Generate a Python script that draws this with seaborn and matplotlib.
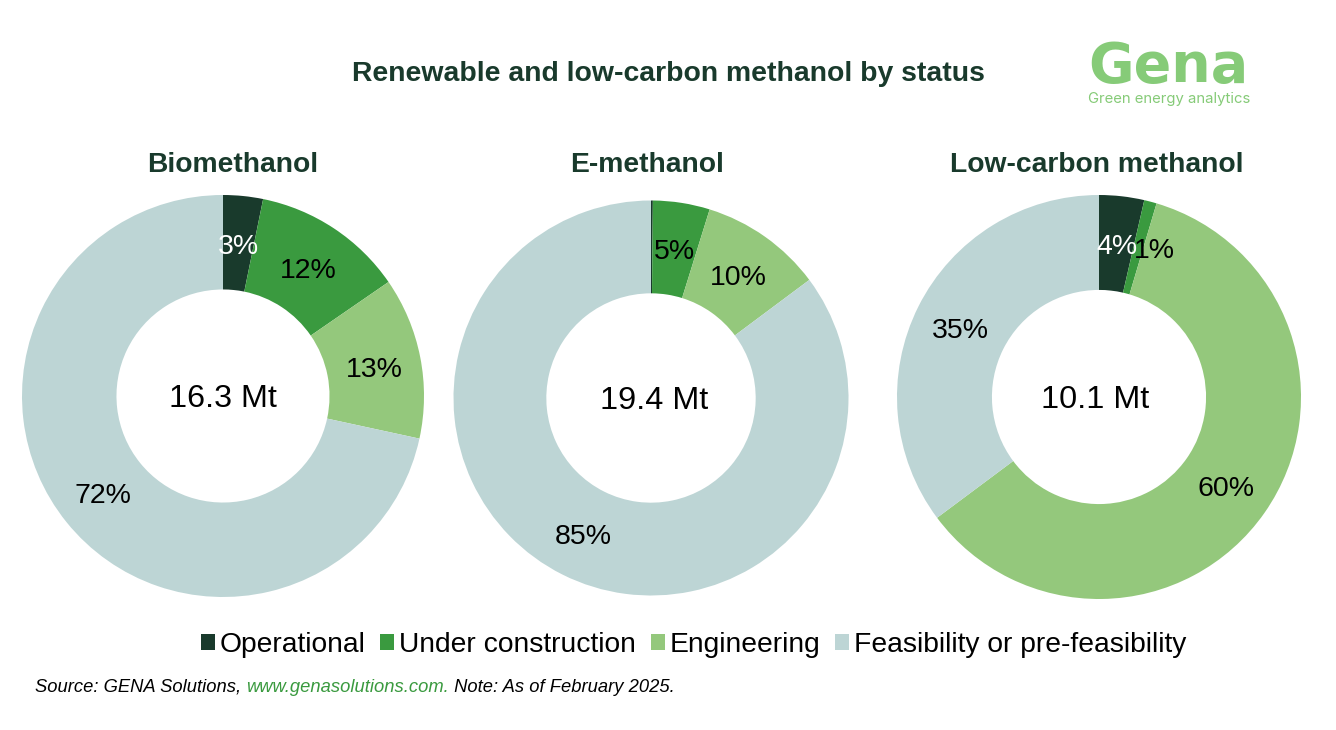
import matplotlib.pyplot as plt
import seaborn as sns
from matplotlib.patches import Patch

statuses = ['Operational', 'Under construction', 'Engineering', 'Feasibility or pre-feasibility']
palette = ['#193A2C', '#3A9A3F', '#94C87C', '#BDD5D5']

titles = ['Biomethanol', 'E-methanol', 'Low-carbon methanol']
totals = ['16.3 Mt', '19.4 Mt', '10.1 Mt']
biomethanol = [3.2, 12.2, 13.0, 71.6]
e_methanol = [0.15, 4.65, 10.0, 85.2]
low_carbon = [3.6, 1.0, 60.2, 35.2]

W, H = 1336, 730

sns.set_theme(style='white')
plt.rcParams['font.family'] = ['Liberation Sans', 'DejaVu Sans']

fig = plt.figure(figsize=(W / 100, H / 100), dpi=100)
fig.patch.set_facecolor('white')


def fx(x):
  return x / W


def fy(y):
  return 1 - y / H


def draw_donut(values, title, total, cx, cy, r, title_x, total_x, total_y):
  ax = fig.add_axes([(cx - r) / W, 1 - (cy + r) / H, 2 * r / W, 2 * r / H])
  wedges, texts, autotexts = ax.pie(
    values, colors=palette, startangle=90, counterclock=False, radius=1,
    autopct=lambda p: f'{round(p)}%' if p >= 0.5 else '',
    pctdistance=0.765, wedgeprops={'width': 0.47, 'linewidth': 0},
    textprops={'fontsize': 20.5, 'color': 'black'})
  autotexts[0].set_color('white')
  # matplotlib centres a little high, push the labels down
  for t in autotexts:
    t.set_y(t.get_position()[1] - 3.5 / r)
  ax.set_xlim(-1, 1)
  ax.set_ylim(-1, 1)
  fig.text(fx(total_x), fy(total_y), total, ha='center', va='center', fontsize=23.3, color='black')
  fig.text(fx(title_x), fy(165), title, ha='center', va='center',
           fontsize=20.3, fontweight='bold', color='#193A2C')
  return autotexts


draw_donut(biomethanol, titles[0], totals[0], 223, 396, 201, 232.5, 223, 399)
draw_donut(e_methanol, titles[1], totals[1], 651, 398, 197.5, 647, 654, 401)
low_labels = draw_donut(low_carbon, titles[2], totals[2], 1099, 397, 202, 1097, 1095, 400)

# the 1% label sits off its thin slice in the original
x1, y1 = low_labels[1].get_position()
low_labels[1].set_position((x1 + 16 / 202, y1))

fig.text(fx(668), fy(74), 'Renewable and low-carbon methanol by status', ha='center', va='center',
         fontsize=20.4, fontweight='bold', color='#193A2C')

# logo
fig.text(fx(1168), fy(67), 'Gena', ha='center', va='center', fontsize=40,
         fontweight='bold', family='DejaVu Sans', color='#86CB78')
fig.text(fx(1169), fy(99), 'Green energy analytics', ha='center', va='center', fontsize=10.7,
         family='Inter', color='#86CB78')

# legend
handles = [Patch(facecolor=c, edgecolor='none') for c in palette]
fig.legend(handles, statuses, loc='center', bbox_to_anchor=(fx(693.5), fy(645)), ncol=4, frameon=False,
           fontsize=20.3, handlelength=0.5, handleheight=0.5, handletextpad=0.17,
           columnspacing=0.52, labelcolor='black')

# source line, three pieces chained by measured width
parts = [('Source: GENA Solutions, ', 'black'), ('www.genasolutions.com.', '#3A9A3F'),
         (' Note: As of February 2025.', 'black')]
x = 35
renderer = fig.canvas.get_renderer()
for s, c in parts:
  t = fig.text(fx(x), fy(687), s, ha='left', va='center', fontsize=13.2, style='italic', color=c)
  x = t.get_window_extent(renderer).x1

fig.savefig('out.png', dpi=100)
